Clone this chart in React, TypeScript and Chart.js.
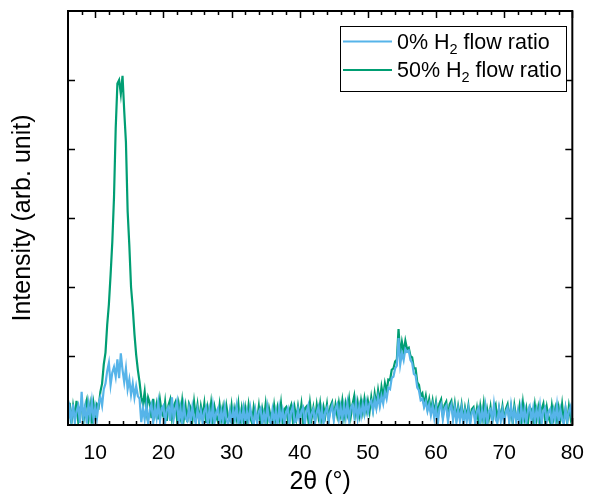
import React, { useEffect, useRef } from "react";
import { Chart, registerables } from "chart.js";

Chart.register(...registerables);

const FONT = "'Liberation Sans', Arial, sans-serif";

// 2θ sampling grid
const TWO_THETA_START = 6;
const TWO_THETA_STEP = 0.25;

const X_TICKS = [10, 20, 30, 40, 50, 60, 70, 80];
const X_MINOR_TICKS = [8, 12, 14, 16, 18, 22, 24, 26, 28, 32, 34, 36, 38, 42, 44, 46, 48, 52, 54, 56, 58, 62, 64, 66, 68, 72, 74, 76, 78];
const Y_TICKS = [1, 2, 3, 4, 5];

const SERIES_0_NAME = ["0% H", "2", " flow ratio"];
const SERIES_50_NAME = ["50% H", "2", " flow ratio"];

// 0% H2 flow ratio (blue)
const INTENSITY_0 = [
  0.02, 0.24, 0.06, 0.30, 0.04, 0.20, 0.28, 0.03,
  0.48, 0.10, 0.26, 0.02, 0.30, 0.12, 0.34, 0.08,
  0.26, 0.10, 0.32, 0.40, 0.28, 0.52, 0.60, 0.78,
  0.90, 0.58, 0.76, 0.84, 0.70, 0.95, 0.68, 1.04,
  0.80, 0.62, 0.82, 0.52, 0.66, 0.44, 0.60, 0.40,
  0.56, 0.42, 0.38, 0.04, 0.24, 0.08, 0.28, 0.02,
  0.22, 0.30, 0.04, 0.26, 0.10, 0.32, 0.06, 0.24,
  0.28, 0.03, 0.22, 0.26, 0.06, 0.40, 0.08, 0.22,
  0.34, 0.05, 0.24, 0.02, 0.28, 0.10, 0.06, 0.24,
  0.04, 0.26, 0.10, 0.02, 0.22, 0.07, 0.20, 0.03,
  0.20, 0.26, 0.01, 0.22, 0.06, 0.28, 0.03, 0.18,
  0.24, 0.02, 0.20, 0.05, 0.26, 0.08, 0.00, 0.20,
  0.03, 0.22, 0.08, 0.27, 0.02, 0.18, 0.05, 0.24,
  0.02, 0.20, 0.06, 0.25, 0.09, 0.00, 0.21, 0.04,
  0.19, 0.24, 0.02, 0.17, 0.05, 0.26, 0.07, 0.02,
  0.22, 0.05, 0.20, 0.00, 0.25, 0.08, 0.21, 0.03,
  0.18, 0.24, 0.02, 0.19, 0.27, 0.04, 0.06, 0.22,
  0.05, 0.20, 0.25, 0.01, 0.19, 0.28, 0.04, 0.17,
  0.23, 0.03, 0.18, 0.26, 0.06, 0.22, 0.02, 0.19,
  0.25, 0.05, 0.20, 0.28, 0.07, 0.24, 0.30, 0.09,
  0.26, 0.08, 0.28, 0.11, 0.31, 0.07, 0.25, 0.29,
  0.12, 0.32, 0.09, 0.27, 0.13, 0.30, 0.16, 0.33,
  0.18, 0.31, 0.35, 0.20, 0.37, 0.24, 0.41, 0.27,
  0.42, 0.31, 0.48, 0.38, 0.54, 0.52, 0.68, 0.70,
  0.82, 0.86, 1.26, 0.88, 1.04, 0.94, 1.10, 1.06,
  1.08, 0.94, 0.90, 0.74, 0.72, 0.54, 0.50, 0.36,
  0.38, 0.26, 0.34, 0.20, 0.30, 0.14, 0.28, 0.10,
  0.26, 0.00, 0.24, 0.30, 0.08, 0.24, 0.28, 0.05,
  0.22, 0.29, 0.07, 0.25, 0.04, 0.22, 0.06, 0.24,
  0.02, 0.20, 0.05, 0.23, 0.00, 0.18, 0.22, 0.03,
  0.19, 0.25, 0.04, 0.21, 0.07, 0.27, 0.01, 0.20,
  0.23, 0.05, 0.30, 0.08, 0.03, 0.24, 0.06, 0.21,
  0.01, 0.19, 0.25, 0.04, 0.28, 0.07, 0.22, 0.05,
  0.20, 0.02, 0.26, 0.07, 0.23, 0.03, 0.21, 0.27,
  0.06, 0.24, 0.04, 0.22, 0.08, 0.28, 0.02, 0.20,
  0.25, 0.05, 0.19, 0.23, 0.01, 0.21, 0.07, 0.29,
  0.04, 0.22, 0.08, 0.01, 0.24, 0.06, 0.20, 0.27,
  0.05,
];

// 50% H2 flow ratio (green)
const INTENSITY_50 = [
  0.08, 0.32, 0.02, 0.27, 0.10, 0.35, 0.05, 0.24,
  0.30, 0.04, 0.26, 0.36, 0.07, 0.28, 0.02, 0.31,
  0.14, 0.30, 0.26, 0.48, 0.60, 0.88, 1.05, 1.45,
  1.75, 2.18, 2.65, 3.30, 4.30, 4.95, 5.00, 4.80,
  5.06, 4.55, 4.10, 3.10, 2.60, 2.00, 1.70, 1.32,
  1.02, 0.80, 0.62, 0.40, 0.30, 0.48, 0.20, 0.40,
  0.32, 0.10, 0.38, 0.16, 0.30, 0.08, 0.36, 0.18,
  0.12, 0.33, 0.06, 0.29, 0.37, 0.10, 0.27, 0.33,
  0.08, 0.30, 0.13, 0.35, 0.09, 0.27, 0.04, 0.31,
  0.25, 0.07, 0.33, 0.11, 0.29, 0.05, 0.27, 0.13,
  0.31, 0.03, 0.25, 0.10, 0.32, 0.07, 0.26, 0.12,
  0.05, 0.29, 0.09, 0.25, 0.02, 0.27, 0.11, 0.07,
  0.28, 0.04, 0.23, 0.09, 0.30, 0.02, 0.24, 0.08,
  0.25, 0.06, 0.29, 0.10, 0.03, 0.26, 0.12, 0.07,
  0.27, 0.02, 0.23, 0.09, 0.30, 0.05, 0.24, 0.11,
  0.04, 0.28, 0.08, 0.25, 0.10, 0.31, 0.03, 0.23,
  0.26, 0.07, 0.22, 0.29, 0.05, 0.25, 0.09, 0.27,
  0.11, 0.30, 0.04, 0.24, 0.27, 0.08, 0.32, 0.10,
  0.25, 0.06, 0.29, 0.12, 0.31, 0.09, 0.26, 0.13,
  0.30, 0.07, 0.27, 0.33, 0.11, 0.29, 0.14, 0.32,
  0.16, 0.35, 0.12, 0.31, 0.17, 0.37, 0.13, 0.30,
  0.42, 0.17, 0.33, 0.15, 0.35, 0.19, 0.38, 0.21,
  0.35, 0.19, 0.40, 0.23, 0.45, 0.28, 0.50, 0.33,
  0.55, 0.40, 0.60, 0.48, 0.66, 0.65, 0.80, 0.82,
  0.92, 0.95, 1.39, 1.00, 1.20, 1.06, 1.22, 1.10,
  1.12, 1.00, 0.98, 0.82, 0.82, 0.62, 0.58, 0.42,
  0.46, 0.30, 0.42, 0.24, 0.37, 0.20, 0.35, 0.17,
  0.33, 0.15, 0.31, 0.37, 0.13, 0.29, 0.34, 0.11,
  0.30, 0.35, 0.14, 0.31, 0.09, 0.27, 0.12, 0.29,
  0.07, 0.25, 0.11, 0.28, 0.05, 0.23, 0.26, 0.08,
  0.24, 0.03, 0.27, 0.10, 0.31, 0.06, 0.23, 0.09,
  0.26, 0.04, 0.22, 0.29, 0.07, 0.24, 0.10, 0.27,
  0.05, 0.23, 0.30, 0.08, 0.25, 0.03, 0.28, 0.11,
  0.09, 0.27, 0.06, 0.32, 0.10, 0.24, 0.04, 0.26,
  0.22, 0.07, 0.29, 0.09, 0.25, 0.05, 0.23, 0.31,
  0.08, 0.26, 0.11, 0.04, 0.28, 0.10, 0.24, 0.07,
  0.25, 0.09, 0.30, 0.06, 0.23, 0.03, 0.27, 0.10,
  0.24,
];

const BLUE = "#56B4E9";
const GREEN = "#009E73";

function toPoints(values: number[]) {
  return values.map((y, i) => ({ x: TWO_THETA_START + i * TWO_THETA_STEP, y }));
}

const framePlugin = {
  id: "frameTicksLegend",
  afterDatasetsDraw(chart: any) {
    const { ctx, chartArea: a, scales } = chart;
    ctx.save();
    ctx.strokeStyle = "#000";
    ctx.lineWidth = 2;
    ctx.strokeRect(a.left, a.top, a.right - a.left, a.bottom - a.top);

    ctx.lineWidth = 1.5;
    ctx.beginPath();
    for (const v of X_TICKS) {
      const px = Math.round(scales.x.getPixelForValue(v)) + 0.5;
      ctx.moveTo(px, a.bottom); ctx.lineTo(px, a.bottom - 7);
      ctx.moveTo(px, a.top); ctx.lineTo(px, a.top + 7);
    }
    for (const v of X_MINOR_TICKS) {
      const px = Math.round(scales.x.getPixelForValue(v)) + 0.5;
      ctx.moveTo(px, a.bottom); ctx.lineTo(px, a.bottom - 4);
      ctx.moveTo(px, a.top); ctx.lineTo(px, a.top + 4);
    }
    for (const v of Y_TICKS) {
      const py = Math.round(scales.y.getPixelForValue(v)) + 0.5;
      ctx.moveTo(a.left, py); ctx.lineTo(a.left + 7, py);
      ctx.moveTo(a.right, py); ctx.lineTo(a.right - 7, py);
    }
    ctx.stroke();

    // legend
    const lx = 340.5, ly = 26.5, lw = 226, lh = 65;
    ctx.fillStyle = "#fff";
    ctx.fillRect(lx, ly, lw, lh);
    ctx.strokeStyle = "#000";
    ctx.lineWidth = 1;
    ctx.strokeRect(lx, ly, lw, lh);
    const items = [
      { parts: SERIES_0_NAME, color: BLUE, y: 41.5 },
      { parts: SERIES_50_NAME, color: GREEN, y: 70 },
    ];
    for (const it of items) {
      ctx.strokeStyle = it.color;
      ctx.lineWidth = 2;
      ctx.beginPath();
      ctx.moveTo(343, it.y);
      ctx.lineTo(392, it.y);
      ctx.stroke();
      ctx.fillStyle = "#000";
      ctx.textBaseline = "alphabetic";
      ctx.textAlign = "left";
      const base = it.y + 7;
      let x = 397;
      ctx.font = `21.5px ${FONT}`;
      ctx.fillText(it.parts[0], x, base);
      x += ctx.measureText(it.parts[0]).width;
      ctx.font = `14.5px ${FONT}`;
      ctx.fillText(it.parts[1], x, base + 5);
      x += ctx.measureText(it.parts[1]).width;
      ctx.font = `21.5px ${FONT}`;
      ctx.fillText(it.parts[2], x, base);
    }
    ctx.restore();
  },
};

export default function App() {
  const canvasRef = useRef<HTMLCanvasElement | null>(null);

  useEffect(() => {
    if (!canvasRef.current) return;
    const chart = new Chart(canvasRef.current, {
      type: "line",
      data: {
        datasets: [
          {
            label: "0% H2 flow ratio",
            data: toPoints(INTENSITY_0),
            borderColor: BLUE,
            borderWidth: 2.2,
            pointRadius: 0,
            tension: 0,
            fill: false,
          },
          {
            label: "50% H2 flow ratio",
            data: toPoints(INTENSITY_50),
            borderColor: GREEN,
            borderWidth: 2.2,
            pointRadius: 0,
            tension: 0,
            fill: false,
          },
        ],
      },
      options: {
        responsive: false,
        animation: false,
        devicePixelRatio: 1,
        layout: { padding: { top: 11, right: 12, left: 0, bottom: 0 } },
        plugins: {
          legend: { display: false },
          tooltip: { enabled: false },
        },
        scales: {
          x: {
            type: "linear",
            min: 6,
            max: 80,
            grid: { display: false },
            border: { display: false },
            afterBuildTicks: (scale: any) => {
              scale.ticks = X_TICKS.map((v) => ({ value: v }));
            },
            afterFit: (scale: any) => {
              scale.height = 76;
            },
            ticks: {
              color: "#000",
              padding: 8,
              maxRotation: 0,
              autoSkip: false,
              font: { family: FONT, size: 21 },
            },
            title: {
              display: true,
              text: "2θ (°)",
              color: "#000",
              font: { family: FONT, size: 25 },
              padding: { top: 0, bottom: 4 },
            },
          },
          y: {
            type: "linear",
            min: 0,
            max: 6,
            grid: { display: false },
            border: { display: false },
            ticks: { display: false },
            afterFit: (scale: any) => {
              scale.width = 68;
            },
            title: {
              display: true,
              text: "Intensity (arb. unit)",
              color: "#000",
              font: { family: FONT, size: 25 },
              padding: { top: 8, bottom: 0 },
            },
          },
        },
      },
      plugins: [framePlugin],
    });
    return () => chart.destroy();
  }, []);

  return (
    <div style={{ position: "fixed", left: 0, top: 0, width: 592, height: 501, background: "#fff" }}>
      <canvas ref={canvasRef} width={592} height={501} style={{ width: 592, height: 501, display: "block" }} />
    </div>
  );
}
